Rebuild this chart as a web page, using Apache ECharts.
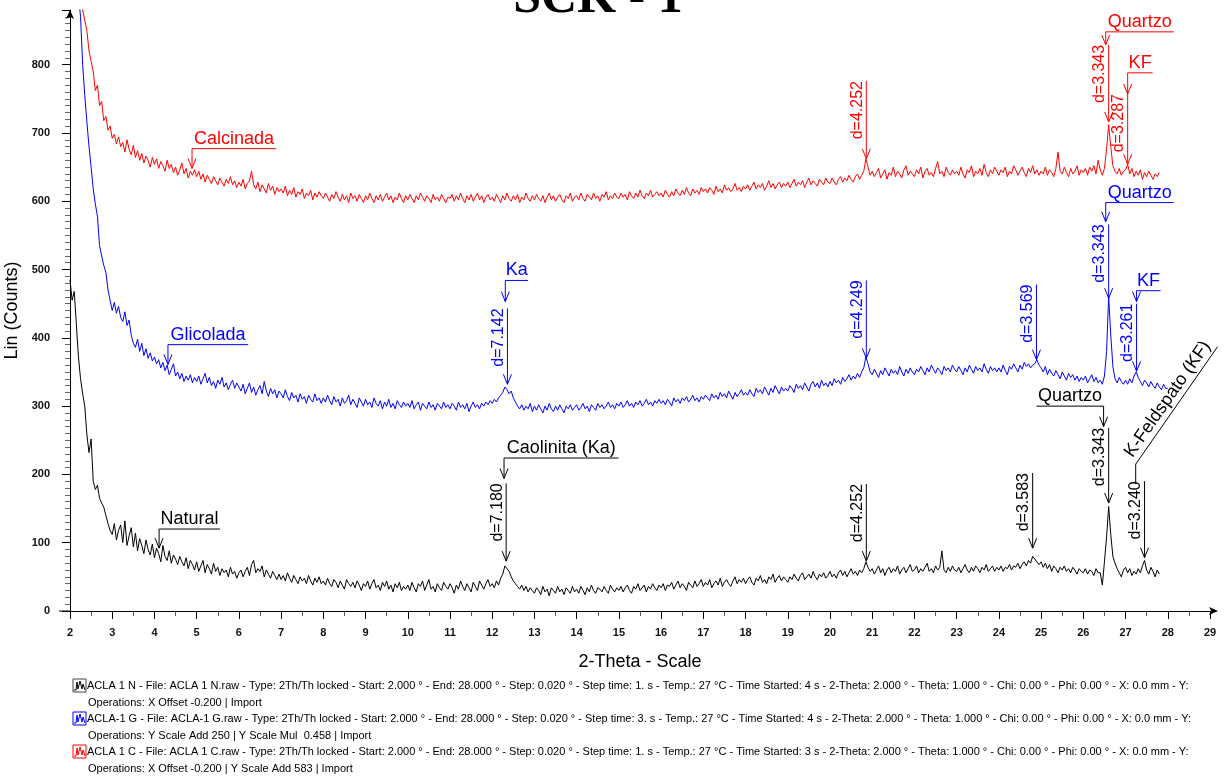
<!DOCTYPE html>
<html>
<head>
<meta charset="utf-8">
<script src="https://cdn.jsdelivr.net/npm/echarts@6/dist/echarts.min.js"></script>
<style>
html, body { margin: 0; padding: 0; background: #fff; }
#chart { width: 1224px; height: 776px; }
</style>
</head>
<body>
<div id="chart"></div>
<script>
// scan step of the digitised patterns (2-theta, degrees)
const stepDeg = 0.05;

// Natural (black), 2.00 .. 27.80, one row per degree
const naturalStart = 2.0;
const naturalCounts = [
  485, 455, 468, 420, 372, 340, 318, 300, 258, 232, 252, 190, 178, 184, 165, 158, 152, 140, 128, 118,
  112, 128, 104, 118, 126, 100, 132, 96, 110, 122, 94, 114, 88, 106, 96, 84, 104, 90, 82, 98,
  78, 92, 84, 72, 96, 80, 74, 88, 70, 82, 76, 68, 80, 72, 66, 78, 62, 74, 68, 60,
  72, 58, 66, 74, 56, 68, 62, 54, 70, 58, 64, 52, 62, 56, 60, 50, 64, 54, 58, 48,
  56, 60, 50, 58, 64, 52, 68, 74, 56, 62, 58, 66, 50, 60, 54, 48, 58, 52, 46, 54,
  46, 52, 44, 56, 48, 42, 52, 46, 40, 50, 44, 48, 40, 52, 44, 38, 48, 42, 50, 40,
  44, 38, 48, 40, 36, 46, 42, 34, 44, 38, 32, 46, 40, 36, 42, 34, 44, 38, 30, 40,
  36, 44, 32, 40, 46, 34, 38, 30, 42, 36, 44, 32, 38, 28, 40, 34, 42, 30, 36, 32,
  38, 30, 42, 34, 28, 40, 36, 44, 30, 38, 46, 32, 36, 28, 40, 34, 30, 42, 36, 32,
  40, 34, 26, 38, 32, 44, 36, 30, 40, 34, 28, 42, 36, 30, 44, 38, 32, 40, 46, 36,
  40, 34, 44, 38, 48, 54, 66, 62, 58, 50, 44, 40, 36, 32, 38, 30, 36, 28, 34, 30,
  26, 34, 30, 24, 36, 28, 32, 22, 34, 30, 26, 36, 28, 32, 24, 34, 30, 26, 36, 28,
  32, 26, 36, 30, 24, 34, 28, 38, 30, 26, 34, 32, 28, 36, 30, 26, 38, 32, 28, 34,
  30, 36, 28, 34, 38, 30, 26, 36, 32, 40, 30, 34, 38, 28, 36, 32, 40, 34, 30, 38,
  34, 40, 30, 38, 36, 42, 32, 38, 44, 34, 40, 36, 30, 42, 38, 34, 44, 36, 40, 46,
  36, 42, 38, 46, 34, 40, 44, 38, 48, 36, 42, 46, 40, 36, 44, 50, 40, 46, 42, 48,
  40, 46, 50, 42, 38, 48, 44, 52, 42, 46, 40, 50, 46, 54, 42, 48, 52, 44, 50, 46,
  42, 50, 46, 54, 48, 44, 52, 56, 46, 50, 54, 48, 58, 50, 46, 54, 50, 56, 48, 52,
  58, 50, 54, 48, 56, 60, 52, 58, 50, 56, 62, 54, 58, 52, 60, 56, 62, 72, 64, 58,
  62, 54, 60, 66, 56, 62, 52, 60, 64, 56, 62, 58, 66, 54, 60, 64, 56, 62, 68, 58,
  60, 66, 56, 62, 58, 64, 70, 58, 62, 56, 66, 60, 64, 88, 60, 56, 64, 58, 66, 60,
  58, 64, 56, 62, 68, 60, 56, 64, 58, 66, 62, 56, 64, 60, 68, 58, 62, 66, 58, 64,
  60, 66, 58, 64, 62, 68, 60, 66, 64, 70, 62, 68, 72, 66, 74, 70, 80, 76, 72, 68,
  72, 64, 70, 62, 68, 58, 66, 62, 56, 64, 60, 66, 58, 62, 56, 64, 60, 54, 62, 58,
  56, 62, 54, 60, 58, 52, 62, 56, 56, 38, 72, 108, 153, 112, 80, 70, 62, 56, 50, 60,
  64, 56, 62, 52, 58, 54, 62, 56, 66, 74, 60, 54, 64, 58, 50, 60, 54
];

// Glicolada (blue), 2.00 .. 28.00
const glicoladaStart = 2.0;
const glicoladaCounts = [
  1050, 1010, 980, 940, 900, 870, 800, 755, 716, 680, 650, 618, 596, 578, 535, 520, 506, 496, 470, 455,
  440, 452, 436, 446, 430, 424, 438, 418, 426, 404, 392, 386, 398, 380, 392, 374, 384, 370, 378, 366,
  372, 362, 368, 356, 364, 352, 360, 346, 354, 362, 344, 350, 340, 348, 336, 344, 338, 346, 334, 342,
  336, 344, 332, 340, 348, 334, 342, 330, 336, 326, 338, 332, 342, 328, 334, 324, 332, 338, 326, 334,
  328, 322, 332, 318, 326, 334, 320, 328, 316, 324, 330, 318, 336, 322, 314, 326, 318, 324, 312, 322,
  318, 312, 324, 314, 308, 320, 312, 316, 306, 318, 310, 314, 304, 316, 310, 306, 318, 308, 312, 304,
  312, 306, 316, 308, 302, 314, 306, 310, 300, 312, 304, 308, 316, 302, 310, 304, 298, 312, 306, 300,
  310, 302, 306, 298, 312, 304, 300, 308, 296, 306, 300, 310, 298, 304, 296, 308, 302, 298, 306, 300,
  304, 298, 308, 296, 302, 306, 294, 304, 300, 296, 306, 298, 302, 294, 304, 300, 296, 306, 298, 302,
  296, 304, 300, 294, 306, 298, 302, 296, 304, 292, 300, 306, 298, 302, 296, 304, 300, 306, 302, 308,
  304, 310, 306, 312, 316, 320, 328, 324, 318, 322, 312, 306, 300, 296, 302, 294, 300, 296, 304, 292,
  300, 294, 302, 296, 290, 300, 294, 304, 296, 292, 300, 294, 302, 296, 290, 300, 296, 302, 294, 298,
  302, 294, 298, 304, 296, 300, 292, 302, 298, 294, 304, 298, 302, 296, 300, 306, 298, 302, 296, 304,
  300, 306, 298, 302, 308, 300, 304, 298, 306, 302, 308, 300, 304, 310, 302, 306, 300, 308, 304, 310,
  304, 308, 302, 310, 306, 300, 312, 306, 310, 304, 312, 308, 314, 306, 310, 316, 308, 312, 306, 314,
  310, 316, 312, 308, 318, 312, 316, 310, 320, 314, 318, 312, 322, 316, 310, 320, 314, 318, 324, 316,
  320, 316, 324, 318, 314, 326, 320, 324, 318, 328, 322, 316, 326, 320, 330, 324, 318, 328, 322, 326,
  322, 330, 326, 320, 332, 326, 330, 324, 334, 328, 322, 332, 336, 328, 334, 326, 338, 330, 334, 328,
  336, 330, 340, 334, 338, 332, 342, 336, 340, 346, 338, 344, 340, 348, 342, 350, 356, 372, 362, 350,
  346, 354, 348, 342, 352, 346, 356, 350, 344, 354, 348, 352, 346, 358, 350, 344, 354, 348, 356, 350,
  346, 354, 350, 358, 352, 346, 356, 350, 360, 354, 348, 356, 352, 346, 358, 352, 356, 350, 360, 354,
  350, 358, 352, 346, 356, 350, 360, 354, 348, 358, 352, 356, 350, 362, 354, 348, 358, 352, 356, 350,
  356, 350, 360, 352, 346, 358, 354, 362, 356, 350, 360, 354, 364, 358, 362, 356, 360, 362, 368, 360,
  356, 350, 358, 346, 354, 348, 344, 352, 346, 340, 350, 344, 338, 348, 342, 346, 338, 344, 336, 342,
  338, 344, 334, 340, 346, 336, 342, 334, 338, 332, 344, 380, 460, 404, 358, 340, 334, 342, 336, 332,
  338, 332, 340, 334, 344, 350, 342, 336, 330, 338, 334, 328, 336, 330, 326, 334, 328, 324, 332, 326,
  326
];

// Calcinada (red), 2.00 .. 27.80
const calcinadaStart = 2.0;
const calcinadaCounts = [
  1000, 975, 950, 925, 905, 890, 880, 865, 850, 820, 805, 790, 762, 770, 740, 746, 718, 724, 704, 710,
  692, 698, 684, 694, 680, 686, 672, 690, 676, 668, 682, 664, 674, 660, 670, 656, 666, 660, 650, 664,
  654, 662, 648, 658, 652, 644, 660, 648, 654, 642, 650, 638, 646, 656, 640, 648, 634, 644, 638, 646,
  636, 644, 632, 640, 628, 638, 632, 626, 636, 630, 624, 634, 628, 622, 632, 626, 636, 624, 630, 620,
  628, 622, 632, 618, 626, 630, 644, 624, 618, 628, 614, 624, 618, 612, 626, 616, 622, 610, 620, 614,
  618, 612, 622, 608, 616, 610, 620, 606, 614, 610, 618, 604, 612, 608, 616, 602, 612, 606, 614, 608,
  604, 612, 606, 600, 610, 604, 614, 606, 600, 610, 602, 608, 598, 612, 604, 608, 600, 610, 604, 598,
  608, 602, 612, 604, 598, 608, 602, 610, 600, 606, 612, 602, 608, 598, 606, 602, 612, 604, 598, 608,
  602, 610, 604, 598, 608, 602, 612, 606, 600, 608, 604, 598, 610, 602, 606, 600, 610, 604, 598, 606,
  604, 610, 600, 608, 602, 612, 604, 598, 608, 602, 610, 600, 606, 612, 602, 608, 598, 606, 610, 602,
  606, 600, 610, 604, 598, 608, 602, 612, 604, 600, 608, 602, 610, 598, 606, 602, 612, 604, 600, 608,
  602, 610, 604, 600, 608, 598, 606, 612, 602, 608, 600, 606, 610, 602, 598, 608, 604, 612, 600, 606,
  608, 602, 612, 604, 600, 610, 606, 602, 612, 604, 608, 600, 610, 606, 614, 602, 608, 604, 612, 606,
  604, 612, 606, 610, 602, 614, 608, 604, 612, 606, 616, 608, 604, 612, 608, 616, 606, 610, 614, 608,
  612, 606, 616, 610, 606, 614, 608, 618, 612, 608, 616, 610, 620, 612, 608, 618, 612, 616, 610, 620,
  614, 618, 612, 620, 616, 610, 622, 614, 618, 612, 624, 616, 620, 614, 618, 626, 616, 620, 614, 622,
  618, 624, 616, 622, 628, 618, 624, 620, 626, 616, 622, 630, 620, 626, 618, 624, 628, 620, 626, 622,
  628, 620, 626, 632, 622, 628, 624, 630, 620, 628, 634, 624, 630, 626, 622, 632, 628, 624, 634, 628,
  626, 634, 628, 624, 632, 636, 628, 634, 630, 638, 632, 628, 636, 640, 632, 638, 644, 662, 650, 638,
  644, 636, 642, 648, 634, 640, 646, 632, 642, 638, 650, 636, 644, 640, 634, 646, 652, 638, 644, 640,
  636, 646, 640, 650, 634, 644, 648, 638, 642, 636, 648, 658, 640, 644, 636, 650, 642, 638, 646, 640,
  644, 638, 650, 640, 634, 646, 642, 652, 636, 644, 640, 648, 638, 654, 642, 636, 646, 640, 650, 644,
  638, 646, 642, 650, 636, 644, 640, 652, 646, 638, 644, 650, 642, 636, 648, 642, 652, 640, 646, 638,
  644, 640, 650, 638, 646, 642, 636, 648, 672, 644, 640, 650, 642, 636, 648, 640, 644, 652, 638, 646,
  642, 648, 638, 650, 644, 652, 640, 660, 646, 638, 648, 676, 712, 680, 652, 644, 640, 648, 638, 644,
  646, 654, 640, 648, 636, 644, 638, 646, 632, 642, 636, 644, 638, 632, 640, 636, 642
];

const xTicks = [2, 29];
const yTicks = [0, 880];

// phase labels: text, arrow x (2θ), leader y (counts), far end x (2θ), arrow tip y (counts), series
const phaseLabels = [
  ['Natural', 4.11, 120, 5.55, 92, 'nat'],
  ['Caolinita (Ka)', 12.28, 224, 14.99, 194, 'nat'],
  ['Quartzo', 26.48, 300, 24.89, 270, 'nat'],
  ['Glicolada', 4.32, 390, 6.22, 361, 'gli'],
  ['Ka', 12.31, 484, 12.85, 453, 'gli'],
  ['Quartzo', 26.53, 598, 28.14, 570, 'gli'],
  ['KF', 27.26, 469, 27.83, 453, 'gli'],
  ['Calcinada', 4.89, 677, 6.88, 648, 'cal'],
  ['Quartzo', 26.53, 848, 28.14, 829, 'cal'],
  ['KF', 27.05, 788, 27.64, 757, 'cal']
];

// d-spacing markers: text, 2θ, top (counts), arrow tip (counts), series
const dSpacings = [
  ['d=7.180', 12.33, 187, 73, 'nat'],
  ['d=4.252', 20.86, 186, 73, 'nat'],
  ['d=3.583', 24.80, 202, 92, 'nat'],
  ['d=3.343', 26.60, 268, 158, 'nat'],
  ['d=3.240', 27.45, 190, 78, 'nat'],
  ['d=7.142', 12.36, 443, 332, 'gli'],
  ['d=4.249', 20.86, 484, 370, 'gli'],
  ['d=3.569', 24.89, 478, 368, 'gli'],
  ['d=3.343', 26.60, 566, 458, 'gli'],
  ['d=3.261', 27.26, 450, 351, 'gli'],
  ['d=4.252', 20.86, 776, 662, 'cal'],
  ['d=3.343', 26.60, 829, 716, 'cal'],
  ['d=3.287', 27.05, 757, 654, 'cal']
];

// slanted K-Feldspato label: foot (2θ, counts), head (2θ, counts)
const kfLeader = [[27.24, 215], [29.18, 387]];
const kfFootTop = 186;

const colors = { nat: '#000000', gli: '#0000ff', cal: '#ff0000' };
const sans = 'Arial, "Liberation Sans", sans-serif';

const legendRows = [
  ['nat', 'ACLA 1 N - File: ACLA 1 N.raw - Type: 2Th/Th locked - Start: 2.000 ° - End: 28.000 ° - Step: 0.020 ° - Step time: 1. s - Temp.: 27 °C - Time Started: 4 s - 2-Theta: 2.000 ° - Theta: 1.000 ° - Chi: 0.00 ° - Phi: 0.00 ° - X: 0.0 mm - Y:',
    'Operations: X Offset -0.200 | Import'],
  ['gli', 'ACLA-1 G - File: ACLA-1 G.raw - Type: 2Th/Th locked - Start: 2.000 ° - End: 28.000 ° - Step: 0.020 ° - Step time: 3. s - Temp.: 27 °C - Time Started: 4 s - 2-Theta: 2.000 ° - Theta: 1.000 ° - Chi: 0.00 ° - Phi: 0.00 ° - X: 0.0 mm - Y:',
    'Operations: Y Scale Add 250 | Y Scale Mul  0.458 | Import'],
  ['cal', 'ACLA 1 C - File: ACLA 1 C.raw - Type: 2Th/Th locked - Start: 2.000 ° - End: 28.000 ° - Step: 0.020 ° - Step time: 1. s - Temp.: 27 °C - Time Started: 3 s - 2-Theta: 2.000 ° - Theta: 1.000 ° - Chi: 0.00 ° - Phi: 0.00 ° - X: 0.0 mm - Y:',
    'Operations: X Offset -0.200 | Y Scale Add 583 | Import']
];

function toPairs(start, counts) {
  return counts.map((c, i) => [Math.round((start + i * stepDeg) * 100) / 100, c]);
}

function lineSeries(name, start, counts, color) {
  return {
    name: name,
    type: 'line',
    data: toPairs(start, counts),
    showSymbol: false,
    symbol: 'none',
    clip: true,
    lineStyle: { color: color, width: 1 },
    itemStyle: { color: color },
    animation: false
  };
}

const chart = echarts.init(document.getElementById('chart'));
chart.setOption({
  backgroundColor: '#fff',
  animation: false,
  grid: { left: 70, right: 14, top: 10, bottom: 165, containLabel: false, outerBoundsMode: 'none' },
  xAxis: {
    type: 'value',
    min: xTicks[0],
    max: xTicks[1],
    interval: 1,
    name: '2-Theta - Scale',
    nameLocation: 'middle',
    nameGap: 42,
    nameTextStyle: { fontFamily: sans, fontSize: 18, color: '#000' },
    axisLine: { lineStyle: { color: '#000', width: 1 }, symbol: ['none', 'arrow'], symbolSize: [6, 9], symbolOffset: [0, 8] },
    axisTick: { length: 8, lineStyle: { color: '#000' } },
    minorTick: { show: true, splitNumber: 2, length: 5, lineStyle: { color: '#555' } },
    axisLabel: { fontFamily: sans, fontSize: 11, fontWeight: 'bold', color: '#111', margin: 16 },
    splitLine: { show: false }
  },
  yAxis: {
    type: 'value',
    min: yTicks[0],
    max: yTicks[1],
    interval: 100,
    name: 'Lin (Counts)',
    nameLocation: 'middle',
    nameGap: 42,
    nameRotate: 90,
    nameTextStyle: { fontFamily: sans, fontSize: 18, color: '#000' },
    axisLine: { show: true, lineStyle: { color: '#000', width: 1 }, symbol: ['none', 'arrow'], symbolSize: [6, 9] },
    axisTick: { show: true, length: 8, lineStyle: { color: '#000' } },
    minorTick: { show: true, splitNumber: 10, length: 5, lineStyle: { color: '#666' } },
    axisLabel: {
      fontFamily: sans, fontSize: 11, fontWeight: 'bold', color: '#111', margin: 20,
      formatter: v => (v % 100 === 0 ? String(v) : '')
    },
    splitLine: { show: false }
  },
  series: [
    lineSeries('Natural', naturalStart, naturalCounts, colors.nat),
    lineSeries('Glicolada', glicoladaStart, glicoladaCounts, colors.gli),
    lineSeries('Calcinada', calcinadaStart, calcinadaCounts, colors.cal)
  ]
});

function arrowHead(p, color) {
  return {
    type: 'polyline', silent: true,
    shape: { points: [[p[0] - 4, p[1] - 10], [p[0], p[1]], [p[0] + 4, p[1] - 10]] },
    style: { stroke: color, lineWidth: 1, fill: null }
  };
}

function textEl(x, y, text, font, color, align, vAlign, rotation) {
  return {
    type: 'text', silent: true, x: x, y: y, rotation: rotation || 0,
    style: {
      text: text, font: font, fill: color,
      align: align, verticalAlign: vAlign,
      textAlign: align, textVerticalAlign: vAlign
    }
  };
}

function buildGraphic() {
  const px = p => chart.convertToPixel({ gridIndex: 0 }, p);
  const els = [];

  // title, cut by the top edge as in the scan
  els.push(textEl(598, 24, 'SCK - 1', 'bold 50px "Liberation Serif", "Times New Roman", serif', '#000', 'center', 'bottom'));

  // x axis line runs a little past the y axis
  els.push({ type: 'line', silent: true, shape: { x1: 59, y1: 611, x2: 70, y2: 611 }, style: { stroke: '#000', lineWidth: 1 } });

  phaseLabels.forEach(([text, ax, ly, ex, ty, key]) => {
    const c = colors[key];
    const a = px([ax, ly]), e = px([ex, ly]), t = px([ax, ty]);
    els.push({ type: 'polyline', silent: true, shape: { points: [e, a, t] }, style: { stroke: c, lineWidth: 1, fill: null } });
    els.push(arrowHead(t, c));
    els.push(textEl((a[0] + e[0]) / 2, a[1] - 1, text, '18px ' + sans, c, 'center', 'bottom'));
  });

  dSpacings.forEach(([text, x, top, tip, key]) => {
    const c = colors[key];
    const a = px([x, top]), t = px([x, tip]);
    els.push({ type: 'line', silent: true, shape: { x1: a[0], y1: a[1], x2: t[0], y2: t[1] }, style: { stroke: c, lineWidth: 1 } });
    els.push(arrowHead(t, c));
    els.push(textEl(a[0] - 9, a[1], text, '16px ' + sans, c, 'right', 'middle', Math.PI / 2));
  });

  // K-Feldspato (KF) slanted leader
  const f = px(kfLeader[0]), h = px(kfLeader[1]), ft = px([kfLeader[0][0], kfFootTop]);
  els.push({ type: 'polyline', silent: true, shape: { points: [ft, f, h] }, style: { stroke: '#000', lineWidth: 1, fill: null } });
  const ang = Math.atan2(f[1] - h[1], h[0] - f[0]);
  const mx = (f[0] + h[0]) / 2 - Math.sin(ang) * 11, my = (f[1] + h[1]) / 2 - Math.cos(ang) * 11;
  els.push(textEl(mx, my, 'K-Feldspato (KF)', '18px ' + sans, '#000', 'center', 'middle', ang));

  // scan description block
  legendRows.forEach(([key, line1, line2], i) => {
    const y = 686 + i * 33;
    const c = colors[key];
    els.push({ type: 'rect', silent: true, shape: { x: 73, y: y - 7, width: 13, height: 13 }, style: { stroke: key === 'nat' ? '#444' : c, fill: '#fff', lineWidth: 1 } });
    els.push({
      type: 'polyline', silent: true,
      shape: { points: [[74, y + 4], [76, y + 4], [77, y - 4], [78, y + 3], [80, y - 5], [82, y + 3], [83, y - 2], [85, y + 4]] },
      style: { stroke: c, lineWidth: 1, fill: null }
    });
    els.push(textEl(87, y, line1, '11px ' + sans, '#000', 'left', 'middle'));
    els.push(textEl(88, y + 17, line2, '11px ' + sans, '#000', 'left', 'middle'));
  });

  chart.setOption({ graphic: { elements: els } });
}

buildGraphic();
</script>
</body>
</html>
